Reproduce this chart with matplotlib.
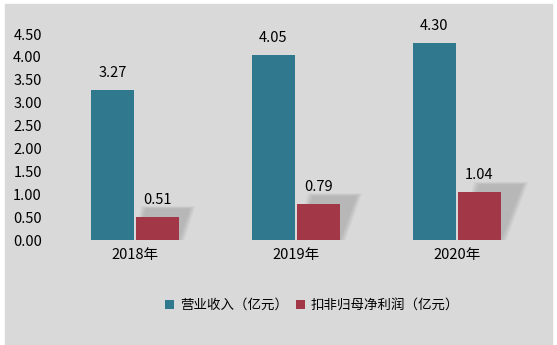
import matplotlib.pyplot as plt
import numpy as np
from matplotlib.patches import Polygon

plt.rcParams['font.family'] = ['Noto Sans CJK SC', 'DejaVu Sans']

years = ['2018年', '2019年', '2020年']
revenue = [3.27, 4.05, 4.30]
profit = [0.51, 0.79, 1.04]
series_names = ['营业收入（亿元）', '扣非归母净利润（亿元）']
yticks = [0, 0.5, 1, 1.5, 2, 2.5, 3, 3.5, 4, 4.5]

teal = '#30788e'
red = '#a23747'
bg = '#d9d9d9'

fig = plt.figure(figsize=(5.57, 3.45), dpi=100)
fig.patch.set_facecolor('white')
# gray panel
panel = plt.Rectangle((5 / 557, 0), 547 / 557, 341 / 345,
                      transform=fig.transFigure, color=bg, zorder=-10)
fig.add_artist(panel)
ax = fig.add_axes([0.0978, 0.3043, 0.867, 0.5971])
ax.set_facecolor('none')

x = np.arange(len(years))
w = 0.267
gap = 0.012
xr = x - w / 2 - gap / 2
xp = x + w / 2 + gap / 2

# soft skewed shadow behind profit bars (stacked layers fake a blur)
for xi, h in zip(xp, profit):
    dx = 0.13 * h
    dy = 0.17
    x0 = xi - w / 2
    x1 = xi + w / 2
    for s in np.linspace(0.06, 0.0, 8):
        e = s * 0.6
        pts = [(x0, 0), (x1 + e, 0),
               (x1 + dx + e, h + dy + s), (x0 + dx - e, h + dy + s)]
        ax.add_patch(Polygon(pts, closed=True, facecolor='#808080',
                             edgecolor='none', alpha=0.05, zorder=1))

ax.bar(xr, revenue, w, color=teal, label=series_names[0], zorder=2)
ax.bar(xp, profit, w, color=red, label=series_names[1], zorder=2)

for xi, v in zip(xr, revenue):
    ax.text(xi, v + 0.22, f'{v:.2f}', ha='center', va='bottom', fontsize=10.5)
for xi, v in zip(xp, profit):
    ax.text(xi, v + 0.22, f'{v:.2f}', ha='center', va='bottom', fontsize=10.5)

ax.set_xlim(-0.5, 2.5)
ax.set_ylim(0, 4.5)
ax.set_yticks(yticks)
ax.set_yticklabels([f'{t:.2f}' for t in yticks], fontsize=10.5)
ax.set_xticks(x)
ax.set_xticklabels(years, fontsize=10.5)
ax.tick_params(length=0, pad=6)
ax.tick_params(axis='y', pad=9)
for sp in ax.spines.values():
    sp.set_visible(False)

fig.legend(loc='center', bbox_to_anchor=(312 / 557, 1 - 305 / 345), ncol=2,
           frameon=False, fontsize=9.7, handlelength=0.7, handleheight=0.7,
           handletextpad=0.4, columnspacing=0.6)

fig.savefig('out.png', dpi=100)
